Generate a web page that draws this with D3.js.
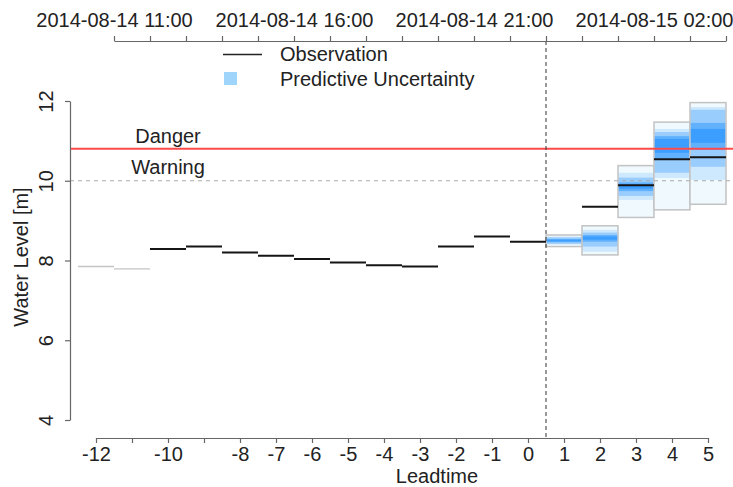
<!DOCTYPE html>
<html>
<head>
<meta charset="utf-8">
<script src="https://cdn.jsdelivr.net/npm/d3@7"></script>
<style>
  html, body { margin: 0; padding: 0; background: #fff; }
  svg text { font-family: "Liberation Sans", Arial, Helvetica, sans-serif; fill: #222; }
</style>
</head>
<body>
<svg id="chart" width="733" height="487"></svg>
<script>
// ---------------- data ----------------
const obsLead  = [-12, -11, -10, -9, -8, -7, -6, -5, -4, -3, -2, -1, 0, 1, 2, 3, 4, 5];
const obsValue = [7.85, 7.79, 8.29, 8.35, 8.20, 8.12, 8.04, 7.95, 7.88, 7.85, 8.35, 8.60, 8.47, null, 9.35, 9.89, 10.54, 10.59];
const obsFaded = [true, true, false, false, false, false, false, false, false, false, false, false, false, false, false, false, false, false];

const fcLead = [1, 2, 3, 4, 5];
const fcMin  = [8.35, 8.14, 9.08, 9.27, 9.41];
const fcMax  = [8.64, 8.87, 10.38, 11.47, 11.96];
const fcQ05  = [8.40, 8.22, 9.52, 10.07, 10.02];
const fcQ95  = [8.60, 8.77, 10.20, 11.30, 11.85];
const fcQ15  = [8.42, 8.35, 9.62, 10.20, 10.35];
const fcQ85  = [8.58, 8.70, 10.08, 11.22, 11.78];
const fcQ30  = [8.46, 8.47, 9.74, 10.55, 10.77];
const fcQ70  = [8.54, 8.64, 9.96, 11.12, 11.45];
const fcQ40  = [8.48, 8.52, 9.80, 10.70, 10.95];
const fcQ60  = [8.52, 8.60, 9.90, 11.05, 11.30];

const dangerLevel = 10.8;
const warningLevel = 10;
const nowLead = 0.5;

const bottomTicks = [-12, -11, -10, -9, -8, -7, -6, -5, -4, -3, -2, -1, 0, 1, 2, 3, 4, 5];
const bottomHidden = [-11, -9];
const yTicks = [4, 6, 8, 10, 12];
const topHourTicks = d3.range(0, 18);           // hourly ticks, 11:00 .. 04:00
const topLabelHours = [0, 5, 10, 15];
const topLabels = ["2014-08-14 11:00", "2014-08-14 16:00", "2014-08-14 21:00", "2014-08-15 02:00"];

// ---------------- layout ----------------
const svg = d3.select("#chart");
const plotLeft = 70, plotRight = 733, plotTop = 41, plotBottom = 438;
const x = d3.scaleLinear().domain([-12, 5]).range([96, 708]);
const y = d3.scaleLinear().domain([4, 12]).range([420, 101]);
const xTop = d3.scaleLinear().domain([0, 17]).range([x(-11.5), x(5.5)]);
const FS = "20px";

// ---------------- forecast uncertainty ----------------
const fc = fcLead.map((l, i) => ({ l, min: fcMin[i], max: fcMax[i],
  bands: [[fcQ05[i], fcQ95[i]], [fcQ15[i], fcQ85[i]], [fcQ30[i], fcQ70[i]], [fcQ40[i], fcQ60[i]]] }));

const gFc = svg.append("g");
fc.forEach(d => {
  gFc.append("rect")
    .attr("x", x(d.l - 0.5)).attr("width", x(d.l + 0.5) - x(d.l - 0.5))
    .attr("y", y(d.max)).attr("height", y(d.min) - y(d.max))
    .attr("fill", "#f0fafe").attr("stroke", "#c2c2c2").attr("stroke-width", 1.5);
  d.bands.forEach((b, k) => {
    gFc.append("rect")
      .attr("x", x(d.l - 0.5) + 0.8).attr("width", x(d.l + 0.5) - x(d.l - 0.5) - 1.6)
      .attr("y", y(b[1])).attr("height", y(b[0]) - y(b[1]))
      .attr("fill", "#1e90ff").attr("fill-opacity", [0.16, 0.3, 0.45, 0.55][k]);
  });
});

// ---------------- threshold lines ----------------
svg.append("line")
  .attr("x1", plotLeft).attr("x2", plotRight)
  .attr("y1", y(warningLevel)).attr("y2", y(warningLevel))
  .attr("stroke", "#aaaaaa").attr("stroke-width", 1.2).attr("stroke-dasharray", "4,4");
svg.append("line")
  .attr("x1", plotLeft).attr("x2", plotRight)
  .attr("y1", y(dangerLevel)).attr("y2", y(dangerLevel))
  .attr("stroke", "#ff4a4a").attr("stroke-width", 2);

svg.append("text").attr("x", x(-10)).attr("y", y(dangerLevel) - 6)
  .attr("text-anchor", "middle").style("font-size", FS).text("Danger");
svg.append("text").attr("x", x(-10)).attr("y", y(warningLevel) - 7)
  .attr("text-anchor", "middle").style("font-size", FS).text("Warning");

// ---------------- observations ----------------
const obs = obsLead.map((l, i) => ({ l, v: obsValue[i], faded: obsFaded[i] })).filter(d => d.v !== null);
svg.append("g").selectAll("line").data(obs).join("line")
  .attr("x1", d => x(d.l - 0.5)).attr("x2", d => x(d.l + 0.5))
  .attr("y1", d => y(d.v)).attr("y2", d => y(d.v))
  .attr("stroke", d => d.faded ? "#c4c4c4" : "#151515")
  .attr("stroke-width", d => d.faded ? 1.3 : 2);

// ---------------- "now" line ----------------
svg.append("line")
  .attr("x1", x(nowLead)).attr("x2", x(nowLead))
  .attr("y1", plotTop).attr("y2", plotBottom)
  .attr("stroke", "#333").attr("stroke-width", 1).attr("stroke-dasharray", "4,3");

// ---------------- axes ----------------
function styleAxis(g) {
  g.selectAll("path.domain").attr("stroke", "#666").attr("stroke-width", 1.2);
  g.selectAll(".tick line").attr("stroke", "#666").attr("stroke-width", 1.2);
  g.selectAll(".tick text").style("font-size", FS).attr("fill", "#222")
    .style("font-family", '"Liberation Sans", Arial, Helvetica, sans-serif');
}

const gBottom = svg.append("g").attr("transform", `translate(0,${plotBottom})`)
  .call(d3.axisBottom(x).tickValues(bottomTicks).tickSize(5).tickSizeOuter(0)
    .tickFormat(d => bottomHidden.includes(d) ? "" : String(d)));
gBottom.selectAll(".tick text").attr("y", 23).attr("dy", 0);
styleAxis(gBottom);

const gTop = svg.append("g").attr("transform", `translate(0,${plotTop})`)
  .call(d3.axisTop(xTop).tickValues(topHourTicks).tickSize(5).tickSizeOuter(0)
    .tickFormat(d => { const k = topLabelHours.indexOf(d); return k >= 0 ? topLabels[k] : ""; }));
gTop.selectAll(".tick text").attr("y", -14).attr("dy", 0);
styleAxis(gTop);

const gLeft = svg.append("g").attr("transform", `translate(${plotLeft},0)`)
  .call(d3.axisLeft(y).tickValues(yTicks).tickSize(5).tickSizeOuter(0).tickFormat(d3.format("d")));
gLeft.selectAll(".tick text").attr("transform", "rotate(-90)")
  .attr("x", 0).attr("y", -17).attr("dy", 0).attr("text-anchor", "middle");
styleAxis(gLeft);

// axis titles
svg.append("text").attr("x", 437).attr("y", 483).attr("text-anchor", "middle")
  .style("font-size", FS).text("Leadtime");
svg.append("text").attr("transform", "translate(28,257) rotate(-90)")
  .attr("text-anchor", "middle").style("font-size", FS).text("Water Level [m]");

// ---------------- legend ----------------
const lg = svg.append("g");
lg.append("line").attr("x1", 223).attr("x2", 262).attr("y1", 54.5).attr("y2", 54.5)
  .attr("stroke", "#222").attr("stroke-width", 1.5);
lg.append("rect").attr("x", 224).attr("y", 72).attr("width", 13).attr("height", 13)
  .attr("fill", "#9fd4fb");
lg.append("text").attr("x", 280).attr("y", 61).style("font-size", FS).text("Observation");
lg.append("text").attr("x", 280).attr("y", 86).style("font-size", FS).text("Predictive Uncertainty");
</script>
</body>
</html>
